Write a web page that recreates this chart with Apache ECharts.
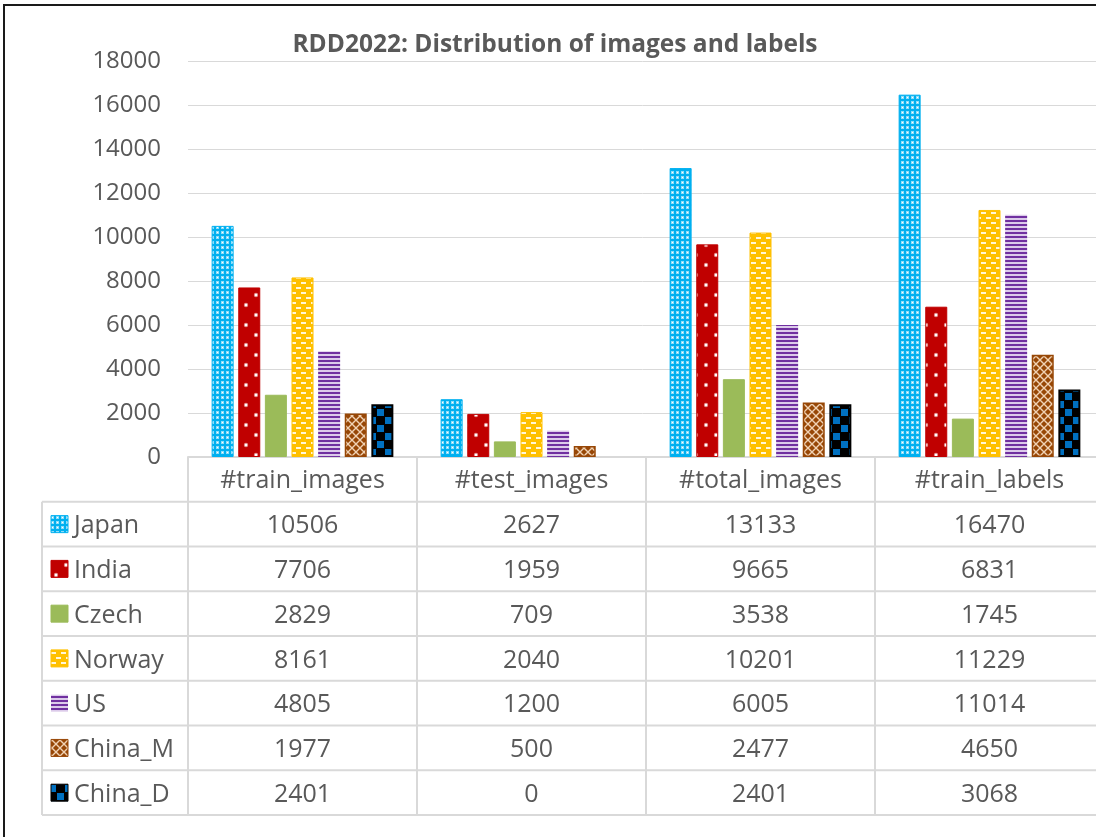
<!DOCTYPE html>
<html>
<head>
<meta charset="utf-8">
<script src="https://cdn.jsdelivr.net/npm/echarts@6/dist/echarts.min.js"></script>
<style>
html,body{margin:0;padding:0;background:#fff;}
#main{width:1096px;height:837px;}
</style>
</head>
<body>
<div id="main"></div>
<script>
// ---- data ----
const categories = ['#train_images', '#test_images', '#total_images', '#train_labels'];
const countries = ['Japan', 'India', 'Czech', 'Norway', 'US', 'China_M', 'China_D'];
const japan  = [10506, 2627, 13133, 16470];
const india  = [7706, 1959, 9665, 6831];
const czech  = [2829, 709, 3538, 1745];
const norway = [8161, 2040, 10201, 11229];
const us     = [4805, 1200, 6005, 11014];
const chinaM = [1977, 500, 2477, 4650];
const chinaD = [2401, 0, 2401, 3068];
const yMin = 0, yMax = 18000, yInterval = 2000;
const titleText = 'RDD2022: Distribution of images and labels';

const seriesValues = [japan, india, czech, norway, us, chinaM, chinaD];

// ---- patterns ----
function pattern(w, h, draw) {
  const c = document.createElement('canvas');
  c.width = w; c.height = h;
  const ctx = c.getContext('2d');
  draw(ctx, w, h);
  return { image: c, repeat: 'repeat' };
}
const patJapan = pattern(5, 5, (ctx) => {
  ctx.fillStyle = '#00B0F0'; ctx.fillRect(0, 0, 5, 5);
  ctx.fillStyle = '#8fdcf8'; ctx.fillRect(1, 1, 3, 3);
  ctx.fillStyle = '#ffffff'; ctx.fillRect(2, 2, 1, 1);
});
const patIndia = pattern(20, 20, (ctx) => {
  ctx.fillStyle = '#C00000'; ctx.fillRect(0, 0, 20, 20);
  [[6, 5], [16, 15]].forEach(([x, y]) => {
    ctx.fillStyle = '#e58a8a'; ctx.beginPath(); ctx.arc(x, y, 2.2, 0, Math.PI * 2); ctx.fill();
    ctx.fillStyle = '#ffffff'; ctx.beginPath(); ctx.arc(x, y, 1.2, 0, Math.PI * 2); ctx.fill();
  });
});
const patCzech = '#9BBB59';
const patNorway = pattern(10, 10, (ctx) => {
  ctx.fillStyle = '#FFC000'; ctx.fillRect(0, 0, 10, 10);
  ctx.fillStyle = '#fff6d8';
  ctx.fillRect(1, 2, 5, 2);
  ctx.fillRect(6, 7, 4, 2);
  ctx.fillRect(0, 7, 1, 2);
});
const patUS = pattern(4, 4, (ctx) => {
  ctx.fillStyle = '#dccbea'; ctx.fillRect(0, 0, 4, 4);
  ctx.fillStyle = '#7030A0'; ctx.fillRect(0, 0, 4, 2);
});
const patChinaM = pattern(8, 8, (ctx) => {
  ctx.fillStyle = '#974706'; ctx.fillRect(0, 0, 8, 8);
  ctx.strokeStyle = '#f0d2b4'; ctx.lineWidth = 1.4;
  ctx.beginPath(); ctx.moveTo(0, 0); ctx.lineTo(8, 8); ctx.moveTo(8, 0); ctx.lineTo(0, 8); ctx.stroke();
});
const patChinaD = pattern(16, 16, (ctx) => {
  ctx.fillStyle = '#000000'; ctx.fillRect(0, 0, 16, 16);
  ctx.fillStyle = '#0070C0';
  ctx.fillRect(1, 1, 7, 7);
  ctx.fillRect(9, 9, 7, 7);
});
const fills = [patJapan, patIndia, patCzech, patNorway, patUS, patChinaM, patChinaD];
const borders = ['#00B0F0', '#C00000', '#9BBB59', '#FFC000', '#8a5cb8', '#974706', '#000000'];
const borderWidths = [1, 1, 1, 1, 0, 1.5, 2];

const FONT = '"Open Sans", sans-serif';
const TXT = '#595959';
const LINE = '#D9D9D9';

const chart = echarts.init(document.getElementById('main'), null, { renderer: 'canvas' });

const option = {
  backgroundColor: '#ffffff',
  animation: false,
  grid: { left: 188, top: 61, width: 916, height: 396, outerBoundsMode: 'none', containLabel: false },
  xAxis: {
    type: 'category',
    data: categories,
    axisLine: { lineStyle: { color: LINE, width: 2 } },
    axisTick: { show: false },
    axisLabel: { fontSize: 25, color: TXT, fontFamily: FONT, margin: 11 },
    splitLine: { show: false }
  },
  yAxis: {
    type: 'value',
    min: yMin, max: yMax, interval: yInterval,
    axisLine: { show: false },
    axisTick: { show: false },
    axisLabel: { fontSize: 24, color: TXT, fontFamily: FONT, margin: 27, formatter: v => String(v) },
    splitLine: { lineStyle: { color: LINE, width: 1 } }
  },
  series: countries.map((name, i) => ({
    name: name,
    type: 'bar',
    barWidth: 22,
    barGap: '21%',
    itemStyle: { color: fills[i], borderColor: borders[i], borderWidth: borderWidths[i] },
    data: seriesValues[i].map(v => v === 0 ? { value: v, itemStyle: { borderWidth: 0 } } : v)
  }))
};
chart.setOption(option);

// ---- data table below the chart, positioned from the axes ----
const centers = categories.map(c => chart.convertToPixel({ xAxisIndex: 0 }, c));
const band = centers.length > 1 ? centers[1] - centers[0] : 229;
const y0 = chart.convertToPixel({ yAxisIndex: 0 }, 0);
const rowH = 44.76;
const tableLeft = 42;
const colEdges = [centers[0] - band / 2].concat(centers.map(c => c + band / 2));
const tableRight = colEdges[colEdges.length - 1];
const tableBottom = y0 + rowH * (countries.length + 1);

const g = [];
// outer frame
g.push({ type: 'line', shape: { x1: 4, y1: 5, x2: 4, y2: 837 }, style: { stroke: '#1a1a1a', lineWidth: 2 }, z: 100 });
g.push({ type: 'line', shape: { x1: 3, y1: 5, x2: 1096, y2: 5 }, style: { stroke: '#1a1a1a', lineWidth: 2 }, z: 100 });
// title
g.push({ type: 'text', x: 555, y: 45, z: 100,
  style: { text: titleText, font: 'bold 24.5px ' + FONT, fill: TXT, align: 'center', verticalAlign: 'middle' } });
// vertical lines
colEdges.forEach(x => g.push({ type: 'line', shape: { x1: x, y1: y0, x2: x, y2: tableBottom }, style: { stroke: LINE, lineWidth: 2 } }));
g.push({ type: 'line', shape: { x1: tableLeft, y1: y0 + rowH, x2: tableLeft, y2: tableBottom }, style: { stroke: LINE, lineWidth: 2 } });
// horizontal lines
for (let r = 1; r <= countries.length + 1; r++) {
  const y = y0 + rowH * r;
  g.push({ type: 'line', shape: { x1: tableLeft, y1: y, x2: tableRight, y2: y }, style: { stroke: LINE, lineWidth: 2 } });
}
// rows
countries.forEach((name, i) => {
  const cy = y0 + rowH * (i + 1) + rowH / 2;
  g.push({ type: 'rect', shape: { x: 51, y: cy - 8.5, width: 17, height: 17 },
    style: { fill: fills[i], stroke: borderWidths[i] ? borders[i] : null, lineWidth: 1 } });
  g.push({ type: 'text', x: 74, y: cy + 2,
    style: { text: name, font: '25px ' + FONT, fill: TXT, align: 'left', verticalAlign: 'middle' } });
  seriesValues[i].forEach((v, j) => {
    g.push({ type: 'text', x: centers[j], y: cy + 2,
      style: { text: String(v), font: '25px ' + FONT, fill: TXT, align: 'center', verticalAlign: 'middle' } });
  });
});
chart.setOption({ graphic: { elements: g } });
</script>
</body>
</html>
